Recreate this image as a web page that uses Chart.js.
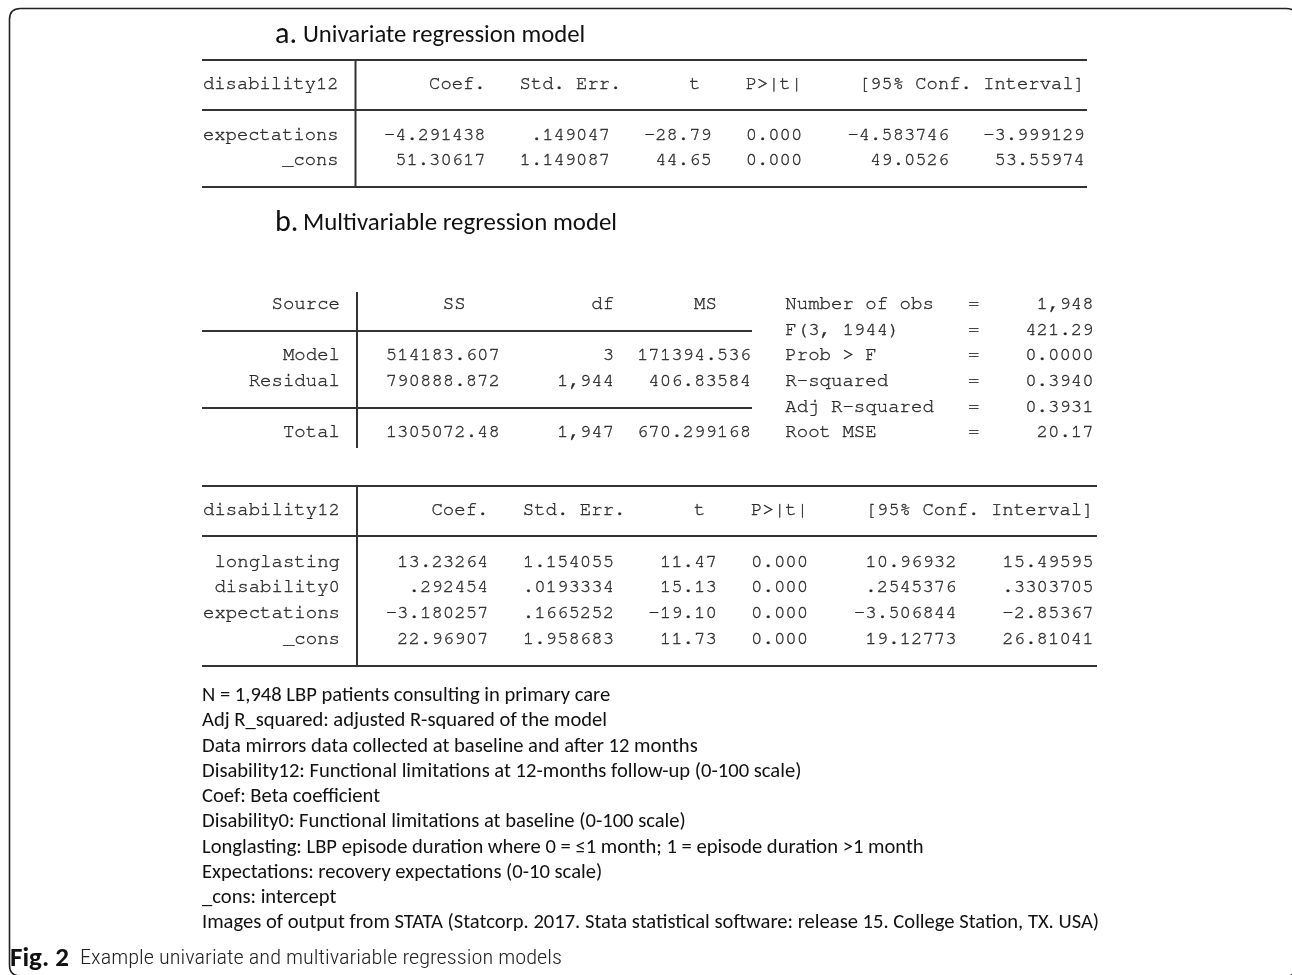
<!DOCTYPE html>
<html><head><meta charset="utf-8">
<script src="https://cdn.jsdelivr.net/npm/chart.js@4.4.1/dist/chart.umd.min.js"></script>
<style>
html,body{margin:0;padding:0;background:#fff;}
#wrap{position:relative;width:1292px;height:975px;overflow:hidden;background:#fff;}
#c{position:absolute;left:0;top:0;}
.t{position:absolute;white-space:pre;line-height:26px;height:26px;}
.mono{font-family:FreeMono,"Nimbus Mono PS","Courier New",monospace;color:#2a2a2a;-webkit-text-stroke:0.35px #2a2a2a;}
.sans{font-family:Carlito,Lato,"Open Sans",sans-serif;color:#111;}
.cond{font-family:"Roboto Condensed",Carlito,sans-serif;color:#222;}
</style></head>
<body><div id="wrap"><canvas id="c" width="1292" height="975"></canvas><div id="txt"></div></div>
<script>
// ---------- data ----------
const titleA = 'Univariate regression model';
const titleB = 'Multivariable regression model';
const depVar = 'disability12';
const coefHeader = '      Coef.   Std. Err.      t    P>|t|     [95% Conf. Interval]';

const uniVars = ['expectations', '_cons'];
const uniCoef = [-4.291438, 51.30617];
const uniSE   = [0.149047, 1.149087];
const uniT    = [-28.79, 44.65];
const uniP    = [0.000, 0.000];
const uniLo   = [-4.583746, 49.0526];
const uniHi   = [-3.999129, 53.55974];

const anovaSources = ['Model', 'Residual', 'Total'];
const anovaSS = [514183.607, 790888.872, 1305072.48];
const anovaDF = [3, 1944, 1947];
const anovaMS = [171394.536, 406.83584, 670.299168];
const fitLabels   = ['Number of obs', 'F(3, 1944)', 'Prob > F', 'R-squared', 'Adj R-squared', 'Root MSE'];
const fitValues   = [1948, 421.29, 0.0000, 0.3940, 0.3931, 20.17];
const fitDecimals = [0, 2, 4, 4, 4, 2];

const multiVars = ['longlasting', 'disability0', 'expectations', '_cons'];
const multiCoef = [13.23264, 0.292454, -3.180257, 22.96907];
const multiSE   = [1.154055, 0.0193334, 0.1665252, 1.958683];
const multiT    = [11.47, 15.13, -19.10, 11.73];
const multiP    = [0.000, 0.000, 0.000, 0.000];
const multiLo   = [10.96932, 0.2545376, -3.506844, 19.12773];
const multiHi   = [15.49595, 0.3303705, -2.85367, 26.81041];

const footnotes = [
  'N = 1,948 LBP patients consulting in primary care',
  'Adj R_squared: adjusted R-squared of the model',
  'Data mirrors data collected at baseline and after 12 months',
  'Disability12: Functional limitations at 12-months follow-up (0-100 scale)',
  'Coef: Beta coefficient',
  'Disability0: Functional limitations at baseline (0-100 scale)',
  'Longlasting: LBP episode duration where 0 = \u22641 month; 1 = episode duration >1 month',
  'Expectations: recovery expectations (0-10 scale)',
  '_cons: intercept',
  'Images of output from STATA (Statcorp. 2017. Stata statistical software: release 15. College Station, TX. USA)'
];
const captionBold = 'Fig. 2';
const captionText = 'Example univariate and multivariable regression models';

// ---------- formatting helpers ----------
const g = v => { let s = String(v); if (s.startsWith('0.')) s = s.slice(1); else if (s.startsWith('-0.')) s = '-' + s.slice(2); return s; };
const L = (s, n) => String(s).padStart(n, ' ');
const R = (s, n) => String(s).padEnd(n, ' ');
const fmtFit = (v, d) => d === 0 ? v.toLocaleString('en-US') : v.toFixed(d);

function coefRow(name, c, se, t, p, lo, hi) {
  return L(name, 12) + '  ' + L(g(c), 11) + L(g(se), 11) + L(t.toFixed(2), 9) + L(p.toFixed(3), 8) + L(g(lo), 13) + L(g(hi), 12);
}

const txt = document.getElementById('txt');
function addText(str, cls, left, cy, fs, extra) {
  const d = document.createElement('div');
  d.className = 't ' + cls;
  d.textContent = str;
  d.style.left = left + 'px';
  d.style.top = (cy - 13) + 'px';
  d.style.fontSize = fs + 'px';
  if (extra) Object.assign(d.style, extra);
  txt.appendChild(d);
  return d;
}

// ---------- table a ----------
const fsA = 18.85, fsB = 19.05;
addText(L(depVar, 12) + '  ' + coefHeader, 'mono', 203, 84, fsA);
const rowYA = [135, 160];
uniVars.forEach((v, i) => addText(coefRow(v, uniCoef[i], uniSE[i], uniT[i], uniP[i], uniLo[i], uniHi[i]), 'mono', 203, rowYA[i], fsA));

// ---------- anova ----------
const anovaY = [304, 330, 355, 381, 407, 432];
const anovaLeft = [
  L('Source', 12) + '  ' + '       SS           df       MS',
  '',
  ...anovaSources.slice(0, 2).map((s, i) => L(s, 12) + '  ' + L(g(anovaSS[i]), 12) + L(anovaDF[i].toLocaleString('en-US'), 10) + L(g(anovaMS[i]), 12)),
  '',
  L(anovaSources[2], 12) + '  ' + L(g(anovaSS[2]), 12) + L(anovaDF[2].toLocaleString('en-US'), 10) + L(g(anovaMS[2]), 12)
];
anovaLeft.forEach((s, i) => {
  const line = R(s, 51) + R(fitLabels[i], 16) + '=' + L(fmtFit(fitValues[i], fitDecimals[i]), 10);
  addText(line, 'mono', 203, anovaY[i], fsB);
});

// ---------- table b coef ----------
addText(L(depVar, 12) + '  ' + coefHeader, 'mono', 203, 510, fsB);
const rowYB = [562, 587, 613, 639];
multiVars.forEach((v, i) => addText(coefRow(v, multiCoef[i], multiSE[i], multiT[i], multiP[i], multiLo[i], multiHi[i]), 'mono', 203, rowYB[i], fsB));

// ---------- titles ----------
const tA1 = addText('a.', 'sans', 275, 33, 27);
const tA2 = addText(titleA, 'sans', 303, 34, 22);
const tB1 = addText('b.', 'sans', 275, 221, 27);
const tB2 = addText(titleB, 'sans', 303, 222, 22);

// ---------- footnotes ----------
const fnY = [694, 719, 745, 770, 795, 820, 846, 871, 896, 921];
const fnEls = footnotes.map((s, i) => addText(s, 'sans', 202, fnY[i], 18.5));

// ---------- caption ----------
const capB = addText(captionBold, 'sans', 10, 957, 20, {fontWeight: '700'});
const capT = addText(captionText, 'cond', 80, 957, 20, {fontWeight: '300', transformOrigin: '0 50%'});

function fitFont(el, target) {
  const w = el.getBoundingClientRect().width;
  const fs = parseFloat(el.style.fontSize);
  const nf = fs * target / w;
  el.style.fontSize = nf + 'px';
  return nf;
}
function fitScale(el, target) {
  el.style.transform = 'none';
  const w = el.getBoundingClientRect().width;
  el.style.transform = 'scaleX(' + (target / w) + ')';
}
function layoutText() {
  fitFont(tA2, 282); fitFont(tB2, 314);
  tA1.style.fontSize = tB1.style.fontSize = (parseFloat(tA2.style.fontSize) * 1.22) + 'px';
  const nf = fitFont(fnEls[fnEls.length - 1], 897);
  fnEls.forEach(e => e.style.fontSize = nf + 'px');
  fitFont(capB, 59);
  fitScale(capT, 482);
}

// ---------- rules drawn through Chart.js scales ----------
const rulesPlugin = {
  id: 'rules',
  afterDraw(chart) {
    const {ctx, scales: {x, y}} = chart;
    const X = v => x.getPixelForValue(v), Y = v => y.getPixelForValue(v);
    ctx.save();
    ctx.strokeStyle = '#333';
    ctx.lineWidth = 2;
    const h = (x0, x1, yy) => { ctx.beginPath(); ctx.moveTo(X(x0), Y(yy)); ctx.lineTo(X(x1), Y(yy)); ctx.stroke(); };
    const v = (xx, y0, y1) => { ctx.beginPath(); ctx.moveTo(X(xx), Y(y0)); ctx.lineTo(X(xx), Y(y1)); ctx.stroke(); };
    // table a
    h(202, 1087, 60); h(202, 1087, 110); h(202, 1087, 187); v(355.5, 60, 187);
    // anova
    h(202, 752, 331); h(202, 752, 408); v(357, 292, 448);
    // table b
    h(202, 1097, 486); h(202, 1097, 536); h(202, 1097, 666); v(357, 486, 666);
    // frame
    ctx.lineWidth = 1.6; ctx.strokeStyle = '#222';
    ctx.beginPath();
    const x0 = X(9.5), y0 = Y(8.5), x1 = X(1297), y1 = Y(976), r = 11;
    ctx.moveTo(x0 + r, y0); ctx.lineTo(x1 - r, y0); ctx.quadraticCurveTo(x1, y0, x1, y0 + r);
    ctx.lineTo(x1, y1 - r); ctx.quadraticCurveTo(x1, y1, x1 - r, y1);
    ctx.lineTo(x0 + r, y1); ctx.quadraticCurveTo(x0, y1, x0, y1 - r);
    ctx.lineTo(x0, y0 + r); ctx.quadraticCurveTo(x0, y0, x0 + r, y0);
    ctx.stroke();
    ctx.restore();
  }
};

new Chart(document.getElementById('c'), {
  type: 'scatter',
  data: {datasets: []},
  options: {
    responsive: false, animation: false, events: [],
    layout: {padding: 0},
    plugins: {legend: {display: false}, tooltip: {enabled: false}},
    scales: {
      x: {type: 'linear', min: 0, max: 1292, display: false},
      y: {type: 'linear', min: 0, max: 975, reverse: true, display: false}
    }
  },
  plugins: [rulesPlugin]
});

layoutText();
if (document.fonts && document.fonts.ready) document.fonts.ready.then(layoutText);
</script>
</body></html>
